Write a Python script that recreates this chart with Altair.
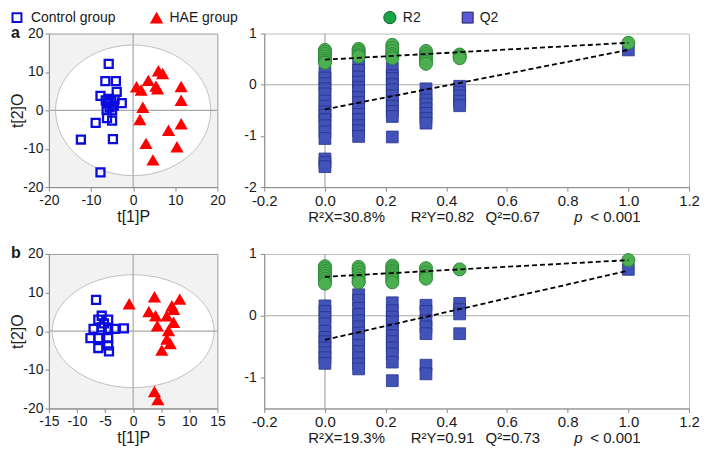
import altair as alt
import numpy as np
import pandas as pd

FONT = "Liberation Sans"
TXT = "#1a1a1a"

# ---------------- data ----------------
legend_labels = ["Control group", "HAE group", "R2", "Q2"]
panel_letters = ["a", "b"]

# Panel a – OPLS-DA score plot
ctrl_a_x = [-5.8, -6.6, -4.1, -7.75, -3.9, -2.7, -6.5, -6.0, -5.2, -5.6, -4.6,
            -6.3, -5.0, -4.4, -5.8, -8.9, -5.0, -6.2, -12.4, -4.8, -7.75]
ctrl_a_y = [12.1, 7.6, 7.6, 3.75, 4.8, 1.9, 2.6, 1.8, 2.2, 0.8, 1.2,
            0.2, 0.0, 2.8, 3.0, -3.25, -2.7, -2.05, -7.6, -7.5, -16.15]
hae_a_x = [6.0, 7.0, 3.6, 0.8, 1.9, 5.4, 5.8, 11.4, 11.4, 2.3, 1.6, 11.4, 8.4, 3.05, 10.4, 4.7]
hae_a_y = [10.3, 9.6, 7.8, 6.15, 5.3, 6.3, 5.6, 6.2, 2.65, 0.8, -2.4, -3.5, -5.2, -8.6, -9.5, -12.9]

# Panel b – OPLS-DA score plot
ctrl_b_x = [-6.6, -6.2, -4.45, -7.05, -5.6, -4.45, -3.3, -1.65, -7.6, -6.2, -4.45, -6.2, -4.45, -4.3, -5.6, -5.2]
ctrl_b_y = [8.1, 3.0, 3.0, 0.6, 1.0, 0.6, 0.6, 0.75, -1.8, -1.8, -1.8, -4.35, -3.65, -5.2, 4.0, 2.0]
hae_b_x = [-0.7, 3.8, 8.3, 7.2, 2.8, 4.0, 6.0, 7.2, 4.3, 6.3, 6.0, 6.6, 5.1, 3.8, 4.4, 6.9]
hae_b_y = [7.1, 8.9, 8.3, 5.7, 5.1, 4.0, 4.0, 2.3, 1.4, 0.2, -2.0, -3.2, -4.9, -15.6, -17.7, 6.6]

# Permutation tests (x = correlation coefficient level)
perm_x = [0, 0.111, 0.222, 0.333, 0.444, 1.0]
r2_a = [[0.68, 0.64, 0.60, 0.55, 0.50, 0.46, 0.43],
        [0.70, 0.66, 0.62, 0.58, 0.55],
        [0.78, 0.72, 0.66, 0.60, 0.56, 0.52],
        [0.66, 0.60, 0.55, 0.50, 0.45, 0.41],
        [0.59, 0.55, 0.52],
        [0.82]]
q2_a = [[0.24, 0.13, 0.02, -0.08, -0.18, -0.32, -0.42, -0.53, -0.60, -0.68, -0.80, -0.92, -1.05, -1.45, -1.52, -1.60],
        [0.39, 0.28, 0.15, 0.05, -0.05, -0.12, -0.25, -0.35, -0.48, -0.58, -0.68, -0.80, -0.90, -1.01],
        [0.33, 0.18, 0.12, 0.0, -0.10, -0.22, -0.32, -0.42, -0.52, -0.62, -1.02],
        [-0.08, -0.20, -0.30, -0.38, -0.47, -0.56, -0.66, -0.75],
        [-0.03, -0.15, -0.22, -0.32, -0.41],
        [0.68]]
r2_line_a = [0.49, 0.82]
q2_line_a = [-0.48, 0.68]
stats_a = ["R\u00b2X=30.8%", "R\u00b2Y=0.82", "Q\u00b2=0.67", "p", "< 0.001"]

r2_b = [[0.80, 0.76, 0.72, 0.68, 0.64, 0.60, 0.56, 0.52],
        [0.79, 0.75, 0.70, 0.65, 0.60, 0.56, 0.54],
        [0.81, 0.77, 0.73, 0.70, 0.66, 0.62, 0.58, 0.54],
        [0.77, 0.70, 0.65, 0.60],
        [0.75],
        [0.90]]
q2_b = [[0.16, 0.07, -0.03, -0.13, -0.25, -0.35, -0.42, -0.52, -0.60, -0.68, -0.77],
        [0.34, 0.25, 0.12, 0.02, -0.08, -0.18, -0.28, -0.38, -0.48, -0.58, -0.68, -0.78, -0.86],
        [0.21, 0.08, -0.02, -0.10, -0.22, -0.32, -0.42, -0.52, -0.62, -0.75, -1.05],
        [0.17, 0.07, -0.08, -0.18, -0.29, -0.80, -0.94],
        [0.20, 0.10, 0.03, -0.29],
        [0.75]]
r2_line_b = [0.63, 0.90]
q2_line_b = [-0.39, 0.73]
stats_b = ["R\u00b2X=19.3%", "R\u00b2Y=0.91", "Q\u00b2=0.73", "p", "< 0.001"]

# ---------------- layout ----------------
SW, PW = 169, 426
HA, HB = 154, 155
MINUS = "replace(datum.label, '\u2212', '-')"


def axis(values, fs, **kw):
    return alt.Axis(values=values, labelFont=FONT, labelFontSize=fs, labelColor=TXT,
                    labelFlush=False, labelOverlap=False, domainColor="#8a8a8a",
                    tickColor="#8a8a8a", tickSize=4, grid=False, labelExpr=MINUS,
                    titleFont=FONT, titleFontSize=16, titleFontWeight="normal",
                    titleColor=TXT, **kw)


def text_layer(label, x, y, **kw):
    return alt.Chart(pd.DataFrame({"t": [label]})).mark_text(
        font=FONT, color=TXT, baseline="middle", **kw
    ).encode(x=alt.value(x), y=alt.value(y), text="t:N")


def legend_layers():
    out = []
    syms = [(-32, dict(shape="square", filled=False, size=80, stroke="#0b0be0", strokeWidth=2)),
            (108, dict(shape="triangle-up", filled=True, size=180, fill="#ff0000", strokeWidth=0)),
            (342, dict(shape="circle", filled=True, size=150, fill="#17a548", stroke="#0d5e28", strokeWidth=1)),
            (420, dict(shape="square", filled=True, size=120, fill="#5a5ad8", stroke="#1f1f50", strokeWidth=1))]
    text_x = [-18, 121, 355, 432]
    for (sx, props), tx, lab in zip(syms, text_x, legend_labels):
        out.append(alt.Chart(pd.DataFrame({"t": [lab]})).mark_point(opacity=1, **props)
                   .encode(x=alt.value(sx), y=alt.value(-16)))
        out.append(text_layer(lab, tx, -16, align="left", fontSize=14))
    return out


def score_chart(cx, cy, hx, hy, xdom, xvals, yvals, rx, ry, H, letter, legend):
    xs = alt.Scale(domain=xdom, nice=False, zero=False)
    ys = alt.Scale(domain=[-20, 20], nice=False, zero=False)
    X = alt.X("x:Q", scale=xs, axis=axis(xvals, 14, title="t[1]P", labelPadding=2, titlePadding=1))
    Y = alt.Y("y:Q", scale=ys, axis=axis(yvals, 14, title="t[2]O", labelPadding=2, titleX=-31,
                                          titleY=H / 2, titleAngle=270, titleAlign="center",
                                          titleBaseline="middle"))
    t = np.linspace(0, np.pi, 121)
    ell = pd.DataFrame({"x": rx * np.cos(t), "y": ry * np.sin(t), "y2": -ry * np.sin(t)})
    ellipse = alt.Chart(ell).mark_area(fill="white", stroke="#bdbdbd", strokeWidth=1, opacity=1).encode(
        x=X, y=Y, y2="y2:Q")
    vr = alt.Chart(pd.DataFrame({"x": [0]})).mark_rule(color="#a8a8a8", strokeWidth=1.2).encode(x=X)
    hr = alt.Chart(pd.DataFrame({"y": [0]})).mark_rule(color="#a8a8a8", strokeWidth=1.2).encode(y=Y)
    sq = alt.Chart(pd.DataFrame({"x": cx, "y": cy})).mark_point(
        shape="square", filled=False, size=64, stroke="#0b0be0", strokeWidth=2.3, opacity=1
    ).encode(x=X, y=Y)
    tri = alt.Chart(pd.DataFrame({"x": hx, "y": hy})).mark_point(
        shape="triangle-up", filled=True, size=175, fill="#ff0000", strokeWidth=0, opacity=1
    ).encode(x=X, y=Y)
    layers = [ellipse, vr, hr, sq, tri,
              text_layer(letter, -38, -1, align="left", fontSize=16, fontWeight="bold")]
    if legend:
        layers += legend_layers()
    return alt.layer(*layers).properties(
        width=SW, height=H, view=alt.ViewBackground(fill="#f2f2f2", stroke="#9c9c9c", strokeWidth=1))


def perm_chart(r2, q2, r2_line, q2_line, ydom, yvals, stats, H):
    xs = alt.Scale(domain=[-0.2, 1.2], nice=False, zero=False)
    ys = alt.Scale(domain=ydom, nice=False, zero=False)
    X = alt.X("x:Q", scale=xs, axis=axis([-0.2, 0, 0.2, 0.4, 0.6, 0.8, 1, 1.2], 15,
                                         title=None, labelPadding=2))
    Y = alt.Y("y:Q", scale=ys, axis=axis(yvals, 14, title=None, labelPadding=4))
    r2_df = pd.DataFrame([(px, v) for px, col in zip(perm_x, r2) for v in col], columns=["x", "y"])
    q2_df = pd.DataFrame([(px, v) for px, col in zip(perm_x, q2) for v in col], columns=["x", "y"])
    ln = pd.DataFrame({"x": [0, 1, 0, 1],
                       "y": [r2_line[0], r2_line[1], q2_line[0], q2_line[1]],
                       "k": ["R2", "R2", "Q2", "Q2"]})
    vr = alt.Chart(pd.DataFrame({"x": [0]})).mark_rule(color="#a8a8a8", strokeWidth=1.2).encode(x=X)
    hr = alt.Chart(pd.DataFrame({"y": [0]})).mark_rule(color="#a8a8a8", strokeWidth=1.2).encode(y=Y)
    qpts = alt.Chart(q2_df).mark_point(shape="square", filled=True, size=140, fill="#4252b8",
                                       stroke="#27348a", strokeWidth=0.8, opacity=1).encode(x=X, y=Y)
    rpts = alt.Chart(r2_df).mark_point(shape="circle", filled=True, size=170, fill="#4caf50",
                                       stroke="#2e8a3a", strokeWidth=1, opacity=1).encode(x=X, y=Y)
    lines = alt.Chart(ln).mark_line(color="black", strokeDash=[5, 3], strokeWidth=1.8).encode(
        x=X, y=Y, detail="k:N")
    sx = [44, 147, 222, 311, 327]
    st = [text_layer(s, x0, H + 30, align="left", fontSize=15,
                     **({"fontStyle": "italic"} if s == "p" else {}))
          for s, x0 in zip(stats, sx)]
    return alt.layer(vr, hr, qpts, rpts, lines, *st).properties(
        width=PW, height=H, view=alt.ViewBackground(fill="white", stroke="#bdbdbd", strokeWidth=1))


sa = score_chart(ctrl_a_x, ctrl_a_y, hae_a_x, hae_a_y, [-20, 20], [-20, -10, 0, 10, 20],
                 [-20, -10, 0, 10, 20], 18.4, 17.0, HA, panel_letters[0], True)
pa = perm_chart(r2_a, q2_a, r2_line_a, q2_line_a, [-2, 1], [-2, -1, 0, 1], stats_a, HA)
sb = score_chart(ctrl_b_x, ctrl_b_y, hae_b_x, hae_b_y, [-15, 15], [-15, -10, -5, 0, 5, 10, 15],
                 [-20, -10, 0, 10, 20], 14.4, 14.6, HB, panel_letters[1], False)
pb = perm_chart(r2_b, q2_b, r2_line_b, q2_line_b, [-1.5, 1], [-1, 0, 1], stats_b, HB)

chart = alt.concat(sa, pa, sb, pb, columns=2, spacing={"row": 67, "column": 47},
                   bounds="flush").properties(
    padding={"left": 0, "right": 0, "top": 0, "bottom": 0}
).configure(font=FONT)

chart.save("out.html", embed_options={"renderer": "svg", "actions": False})
